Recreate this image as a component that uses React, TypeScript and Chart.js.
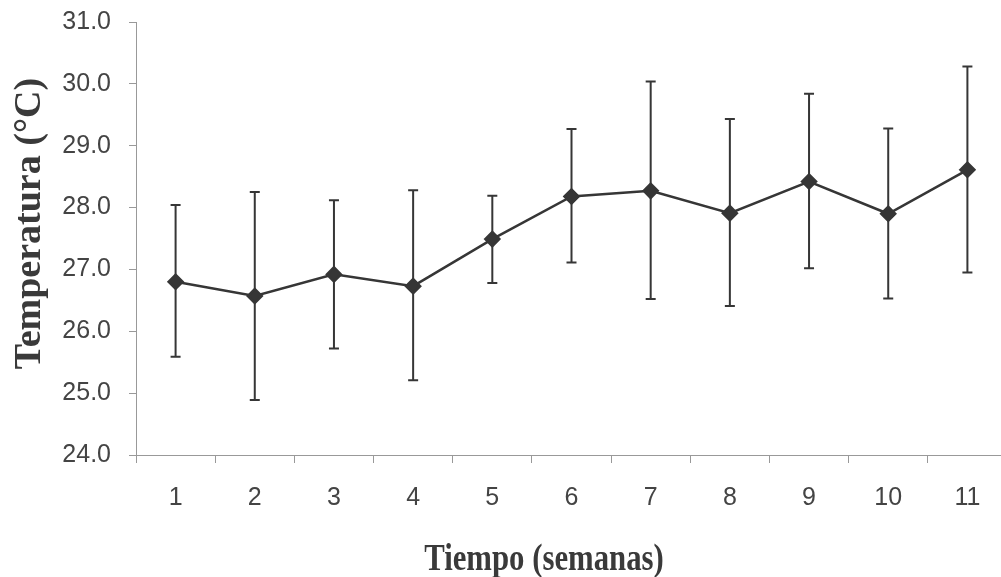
import React, { useEffect, useRef } from "react";
import { Chart, registerables } from "chart.js";

Chart.register(...registerables);

const weeks = ["1", "2", "3", "4", "5", "6", "7", "8", "9", "10", "11"];
const meanTemp = [26.8, 26.57, 26.92, 26.73, 27.49, 28.18, 28.27, 27.91, 28.42, 27.9, 28.61];
const upperTemp = [28.04, 28.25, 28.12, 28.28, 28.19, 29.27, 30.04, 29.43, 29.84, 29.28, 30.28];
const lowerTemp = [25.59, 24.89, 25.72, 25.21, 26.78, 27.11, 26.52, 26.41, 27.02, 26.53, 26.95];
const yTitle = "Temperatura (°C)";
const xTitle = "Tiempo (semanas)";

const INK = "#363636";

const errorBars = {
  id: "errorBars",
  beforeDatasetsDraw(chart: any) {
    const { ctx, scales } = chart;
    const x = scales.x;
    const y = scales.y;
    ctx.save();
    ctx.strokeStyle = INK;
    ctx.lineWidth = 2;
    for (let i = 0; i < weeks.length; i++) {
      const px = x.getPixelForValue(i);
      const top = y.getPixelForValue(upperTemp[i]);
      const bot = y.getPixelForValue(lowerTemp[i]);
      ctx.beginPath();
      ctx.moveTo(px, top);
      ctx.lineTo(px, bot);
      ctx.moveTo(px - 5, top);
      ctx.lineTo(px + 5, top);
      ctx.moveTo(px - 5, bot);
      ctx.lineTo(px + 5, bot);
      ctx.stroke();
    }
    ctx.restore();
  },
};

const axisTitles = {
  id: "axisTitles",
  afterDraw(chart: any) {
    const { ctx, scales } = chart;
    ctx.save();
    ctx.fillStyle = "#3a3a3a";
    ctx.font = "bold 38px 'Liberation Serif', 'Times New Roman', serif";
    ctx.textAlign = "center";
    ctx.textBaseline = "alphabetic";
    ctx.save();
    ctx.translate(544, 570);
    ctx.scale(0.81, 1);
    ctx.fillText(xTitle, 0, 0);
    ctx.restore();
    ctx.save();
    ctx.translate(40, (scales.y.top + scales.y.bottom) / 2 - 15);
    ctx.rotate(-Math.PI / 2);
    ctx.fillText(yTitle, 0, 0);
    ctx.restore();
    ctx.restore();
  },
};

function zeroPad(scale: any) {
  scale.paddingLeft = 0;
  scale.paddingRight = 0;
  scale.paddingTop = 0;
  scale.paddingBottom = 0;
}

export default function App() {
  const ref = useRef<HTMLCanvasElement | null>(null);
  useEffect(() => {
    if (!ref.current) return;
    const chart = new Chart(ref.current, {
      type: "line",
      data: {
        labels: weeks,
        datasets: [
          {
            data: meanTemp,
            borderColor: INK,
            backgroundColor: INK,
            borderWidth: 2.5,
            pointStyle: "rectRot",
            pointRadius: 7,
            pointBackgroundColor: INK,
            pointBorderColor: INK,
            tension: 0,
          },
        ],
      },
      options: {
        animation: false,
        responsive: false,
        maintainAspectRatio: false,
        layout: { autoPadding: false, padding: { top: 22, right: 1, left: 0, bottom: 0 } },
        plugins: { legend: { display: false }, tooltip: { enabled: false } },
        scales: {
          x: {
            offset: true,
            grid: { offset: true, drawOnChartArea: false, drawTicks: true, tickLength: 8, color: "#999" },
            border: { display: true, color: "#999", width: 1 },
            ticks: {
              color: "#444",
              padding: 20,
              font: { family: "'Liberation Sans', Arial, sans-serif", size: 25 },
            },
            afterFit(scale: any) {
              scale.height = 122;
              zeroPad(scale);
            },
          },
          y: {
            min: 24,
            max: 31,
            grid: { drawOnChartArea: false, drawTicks: true, tickLength: 7, color: "#999" },
            border: { display: true, color: "#999", width: 1 },
            ticks: {
              stepSize: 1,
              color: "#444",
              padding: 18,
              font: { family: "'Liberation Sans', Arial, sans-serif", size: 25 },
              callback: (v: any) => Number(v).toFixed(1),
            },
            afterFit(scale: any) {
              scale.width = 136;
              zeroPad(scale);
            },
          },
        },
      },
      plugins: [errorBars, axisTitles],
    });
    return () => chart.destroy();
  }, []);
  return (
    <canvas
      ref={ref}
      width={1008}
      height={577}
      style={{ position: "fixed", left: 0, top: 0, width: 1008, height: 577 }}
    />
  );
}
